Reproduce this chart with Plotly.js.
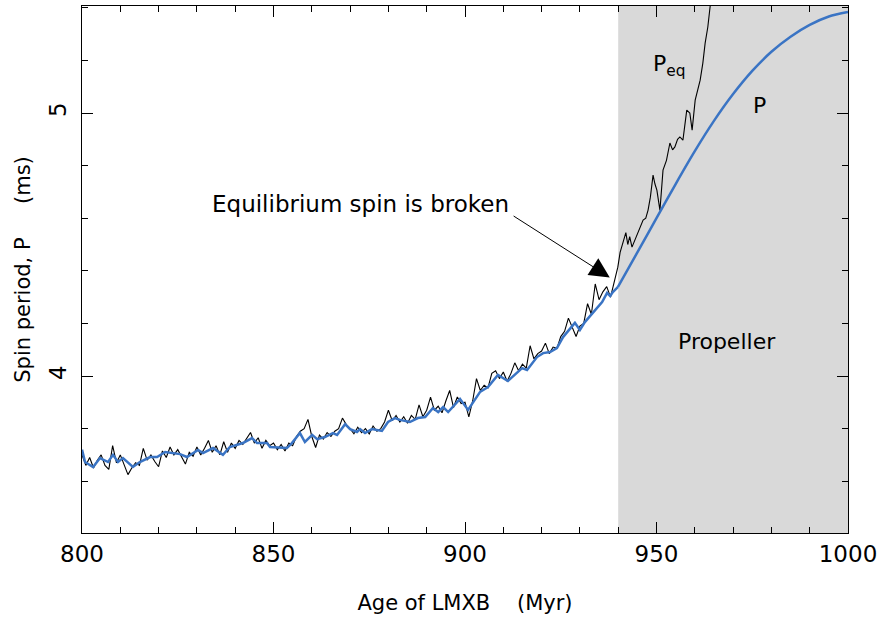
<!DOCTYPE html>
<html>
<head>
<meta charset="utf-8">
<script src="https://cdn.plot.ly/plotly-3.0.1.min.js"></script>
<style>html,body{margin:0;padding:0;background:#fff;}#chart{width:881px;height:621px;}</style>
</head>
<body>
<div id="chart"></div>
<script>
// Spin period P (blue) - accretion phase (piecewise)
var pAge = [800.0, 800.8, 802.9, 804.7, 806.8, 808.1, 809.4, 810.7, 813.3, 815.1, 817.8, 819.6, 821.7, 825.6, 827.4, 830.3, 831.6, 834.2, 836.8, 838.6, 842.0, 844.4, 845.7, 848.3, 849.1, 853.5, 854.8, 856.9, 858.2, 860.1, 861.4, 863.4, 865.5, 866.6, 868.7, 870.0, 871.8, 872.6, 873.9, 875.7, 878.3, 879.9, 881.7, 883.0, 885.6, 887.7, 889.6, 891.6, 893.0, 894.3, 895.6, 898.7, 900.8, 903.9, 906.0, 908.6, 911.2, 914.9, 916.2, 918.8, 920.4, 922.2, 924.0, 925.6, 928.7, 930.0, 931.3, 933.4, 935.8, 937.1, 937.9, 938.6, 939.9];
var pVal = [3.720, 3.673, 3.654, 3.688, 3.673, 3.700, 3.673, 3.688, 3.654, 3.673, 3.692, 3.692, 3.711, 3.703, 3.692, 3.719, 3.707, 3.726, 3.700, 3.730, 3.745, 3.764, 3.745, 3.745, 3.730, 3.726, 3.745, 3.783, 3.749, 3.776, 3.760, 3.768, 3.783, 3.776, 3.817, 3.798, 3.787, 3.798, 3.783, 3.798, 3.791, 3.825, 3.840, 3.833, 3.825, 3.840, 3.844, 3.878, 3.863, 3.882, 3.863, 3.913, 3.871, 3.939, 3.958, 4.004, 3.981, 4.030, 4.023, 4.072, 4.087, 4.091, 4.106, 4.148, 4.202, 4.175, 4.205, 4.240, 4.281, 4.316, 4.304, 4.319, 4.338];
// Spin period P (blue) - propeller phase (smooth)
var pPropAge = [939.9, 945, 950, 955, 960, 965, 970, 975, 980, 985, 990, 995, 1000];
var pPropVal = [4.338, 4.470, 4.600, 4.730, 4.855, 4.970, 5.072, 5.160, 5.233, 5.290, 5.335, 5.367, 5.384];

// Equilibrium spin period P_eq (black, noisy)
var eqAge = [800, 801, 802, 803, 804, 805, 806, 807, 808, 809, 810, 811, 812, 813, 814, 815, 816, 817, 818, 819, 820, 821, 822, 823, 824, 825, 826, 827, 828, 829, 830, 831, 832, 833, 834, 835, 836, 837, 838, 839, 840, 841, 842, 843, 844, 845, 846, 847, 848, 849, 850, 851, 852, 853, 854, 855, 856, 857, 858, 859, 860, 861, 862, 863, 864, 865, 866, 867, 868, 869, 870, 871, 872, 873, 874, 875, 876, 877, 878, 879, 880, 881, 882, 883, 884, 885, 886, 887, 888, 889, 890, 891, 892, 893, 894, 895, 896, 897, 898, 899, 900, 901, 902, 903, 904, 905, 906, 907, 908, 909, 910, 911, 912, 913, 914, 915, 916, 917, 918, 919, 920, 921, 922, 923, 924, 925, 926, 927, 928, 929, 930, 931, 932, 933, 934, 935, 936, 937, 938, 939, 939.9, 940.5, 941.3, 942.0, 942.5, 943.0, 943.6, 944.4, 945.0, 945.7, 946.5, 947.2, 947.8, 948.4, 948.8, 949.1, 949.6, 950.1, 950.9, 951.7, 952.6, 953.5, 954.2, 954.8, 955.5, 956.1, 956.9, 957.9, 958.7, 959.3, 960.1, 960.8, 961.4, 962.1, 962.7, 963.4, 964.0, 964.5];
var eqVal = [3.700, 3.660, 3.690, 3.650, 3.680, 3.700, 3.660, 3.645, 3.735, 3.670, 3.700, 3.660, 3.625, 3.650, 3.670, 3.660, 3.725, 3.680, 3.700, 3.675, 3.655, 3.715, 3.690, 3.730, 3.700, 3.720, 3.690, 3.665, 3.710, 3.695, 3.730, 3.700, 3.725, 3.755, 3.710, 3.735, 3.700, 3.750, 3.710, 3.745, 3.725, 3.755, 3.740, 3.765, 3.785, 3.745, 3.765, 3.725, 3.755, 3.735, 3.745, 3.720, 3.740, 3.715, 3.745, 3.735, 3.770, 3.790, 3.800, 3.835, 3.770, 3.728, 3.775, 3.760, 3.785, 3.770, 3.790, 3.800, 3.840, 3.815, 3.800, 3.780, 3.805, 3.785, 3.800, 3.780, 3.810, 3.790, 3.800, 3.825, 3.870, 3.830, 3.850, 3.825, 3.845, 3.820, 3.850, 3.835, 3.890, 3.845, 3.870, 3.920, 3.870, 3.885, 3.860, 3.905, 3.945, 3.880, 3.920, 3.895, 3.900, 3.845, 3.905, 3.990, 3.945, 3.965, 3.955, 4.010, 4.020, 3.990, 4.015, 3.980, 4.010, 4.050, 4.020, 4.045, 4.030, 4.115, 4.065, 4.085, 4.095, 4.125, 4.085, 4.110, 4.105, 4.150, 4.170, 4.220, 4.185, 4.150, 4.190, 4.200, 4.275, 4.235, 4.350, 4.290, 4.320, 4.340, 4.300, 4.355, 4.414, 4.470, 4.506, 4.545, 4.500, 4.530, 4.490, 4.517, 4.540, 4.567, 4.593, 4.600, 4.631, 4.680, 4.719, 4.764, 4.730, 4.707, 4.630, 4.783, 4.820, 4.886, 4.860, 4.871, 4.900, 4.909, 4.897, 5.011, 5.000, 4.935, 5.049, 5.090, 5.125, 5.190, 5.266, 5.327, 5.399, 5.470];

var propellerStart = 940, propellerEnd = 1000;
var xTickVals = [800, 850, 900, 950, 1000];
var yTickVals = [4, 5];

var FONT = 'DejaVu Sans, sans-serif';
var BLUE = '#3a74c4';

var traces = [
  {x: eqAge, y: eqVal, type: 'scatter', mode: 'lines', line: {color: '#000000', width: 1.1}, hoverinfo: 'skip'},
  {x: pAge, y: pVal, type: 'scatter', mode: 'lines', line: {color: BLUE, width: 2.5}, hoverinfo: 'skip'},
  {x: pPropAge, y: pPropVal, type: 'scatter', mode: 'lines', line: {color: BLUE, width: 2.5, shape: 'spline', smoothing: 0.8}, hoverinfo: 'skip'}
];

var layout = {
  width: 881, height: 621,
  margin: {l: 82, r: 33, t: 6, b: 88},
  paper_bgcolor: '#ffffff', plot_bgcolor: '#ffffff',
  showlegend: false,
  font: {family: FONT, color: '#000000', size: 21},
  xaxis: {
    range: [800, 1000], showgrid: false, zeroline: false,
    showline: true, linecolor: '#000000', linewidth: 1, mirror: 'ticks',
    ticks: 'inside', ticklen: 11, tickcolor: '#000000', tickwidth: 1,
    tickvals: xTickVals, ticktext: xTickVals.map(String),
    tickfont: {family: FONT, size: 23},
    minor: {ticks: 'inside', ticklen: 6, dtick: 10, tick0: 800, tickcolor: '#000000', showgrid: false},
    title: {text: 'Age of LMXB\u00A0\u00A0\u00A0\u00A0(Myr)', font: {family: FONT, size: 21}, standoff: 29}
  },
  yaxis: {
    range: [3.403, 5.407], showgrid: false, zeroline: false,
    showline: true, linecolor: '#000000', linewidth: 1, mirror: 'ticks',
    ticks: 'inside', ticklen: 11, tickcolor: '#000000', tickwidth: 1,
    tickvals: yTickVals, ticktext: yTickVals.map(String), tickangle: -90,
    ticklabelstandoff: 6,
    tickfont: {family: FONT, size: 23},
    minor: {ticks: 'inside', ticklen: 6, dtick: 0.2, tick0: 3.4, tickcolor: '#000000', showgrid: false},
    title: {text: 'Spin period, P\u00A0\u00A0\u00A0\u00A0\u00A0(ms)', font: {family: FONT, size: 21}, standoff: 8}
  },
  shapes: [
    {type: 'rect', xref: 'x', yref: 'paper', x0: propellerStart, x1: propellerEnd, y0: 0, y1: 1,
     fillcolor: '#d9d9d9', line: {width: 0}, layer: 'below'}
  ],
  annotations: [
    {x: 912, y: 4.655, xref: 'x', yref: 'y', text: 'Equilibrium spin is broken', showarrow: false,
     xanchor: 'right', yanchor: 'middle', font: {family: FONT, size: 23}},
    {x: 937.8, y: 4.375, xref: 'x', yref: 'y', ax: 912.3, ay: 4.612, axref: 'x', ayref: 'y',
     text: '', showarrow: true, arrowhead: 2, arrowsize: 4, arrowwidth: 1, arrowcolor: '#000000'},
    {x: 953.5, y: 5.18, xref: 'x', yref: 'y', text: 'P<sub>eq</sub>', showarrow: false, font: {family: FONT, size: 22}},
    {x: 977.0, y: 5.03, xref: 'x', yref: 'y', text: 'P', showarrow: false, font: {family: FONT, size: 22}},
    {x: 968.4, y: 4.133, xref: 'x', yref: 'y', text: 'Propeller', showarrow: false, font: {family: FONT, size: 22}}
  ]
};

Plotly.newPlot('chart', traces, layout, {staticPlot: true, displayModeBar: false});
</script>
</body>
</html>
